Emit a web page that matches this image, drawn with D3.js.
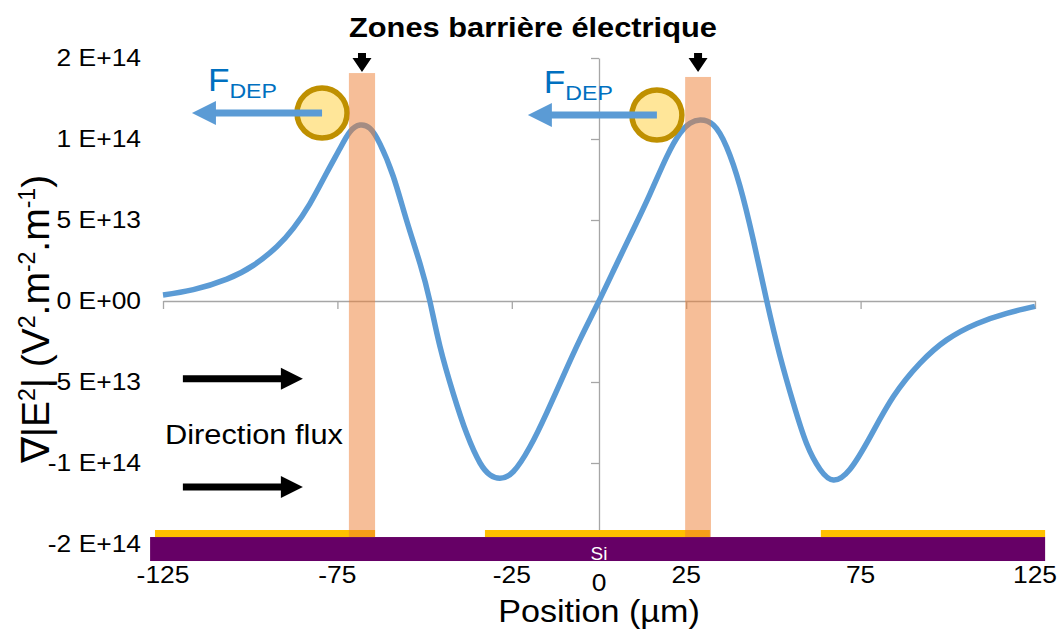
<!DOCTYPE html>
<html>
<head>
<meta charset="utf-8">
<script src="https://cdn.jsdelivr.net/npm/d3@7"></script>
<style>
  html, body { margin: 0; padding: 0; background: #fff; }
  text { font-family: "Liberation Sans", Arial, sans-serif; }
</style>
</head>
<body>
<div id="chart"></div>
<script>
// gradient of |E|^2 along the channel (µm, units of 1e13 V².m-².m-1)
const positions = [-125, -116.3, -106.7, -99.1, -92.4, -87.6, -82.9, -78.1, -74.3, -71.4, -68.5, -65.7, -62.8, -59, -55.2, -51.3, -48.5,
  -45.6, -41.8, -37.9, -34.1, -31.2, -28.4, -24.6, -19.8, -15, -10.2, -5.4, 0,
  5.1, 9.8, 14.6, 19.4, 23.2, 26.1, 29, 32.8, 36.6, 40.4, 44.2, 48.1,
  51.9, 55.7, 59.5, 63.4, 67.2, 71.9, 77.7, 84.4, 92, 99.7, 108.3, 116.9, 125];
const gradE2 = [0.37, 0.7, 1.35, 2.2, 3.35, 4.5, 6.0, 7.9, 9.4, 10.45, 10.86, 10.66, 9.7, 7.7, 5.0, 2.3, 0,
  -2.8, -5.7, -8.2, -10.0, -10.74, -10.94, -10.54, -9.0, -6.9, -4.6, -2.35, 0,
  2.3, 4.4, 6.6, 8.9, 10.35, 10.97, 11.17, 10.86, 9.5, 7.1, 3.8, 0,
  -3.4, -6.3, -8.8, -10.4, -11.05, -10.4, -8.4, -5.9, -3.85, -2.4, -1.4, -0.76, -0.33];

const yTickValues = [1.5e14, 1e14, 5e13, 0, -5e13, -1e14, -1.5e14];
const yTickLabels = ["2 E+14", "1 E+14", "5 E+13", "0 E+00", "-5 E+13", "-1 E+14", "-2 E+14"];
const xTickValues = [-125, -75, -25, 0, 25, 75, 125];
const xTickLabels = ["-125", "-75", "-25", "0", "25", "75", "125"];

// device drawing (µm)
const electrodes = [[-127.3, -64.2], [-32.7, 31.8], [63.6, 127.9]];
const substrate = [-128.7, 127.9];
const barriers = [[-71.7, -64.2], [24.7, 32.1]];
const barrierTops = [1.407e14, 1.383e14];
const particles = [[-79.4, 1.16e14], [16.6, 1.148e14]];
const forceTips = [-116.7, -20.4];
const flowArrows = [[-119.3, -84.9, -0.48e14], [-119.3, -84.9, -1.148e14]];

const W = 1058, H = 631;
const plot = { left: 163, right: 1035, top: 58, bottom: 544 };
const stretch = 1.1;

const x = d3.scaleLinear().domain([-125, 125]).range([plot.left, plot.right]);
const y = d3.scaleLinear().domain([-1.5e14, 1.5e14]).range([plot.bottom, plot.top]);

const svg = d3.select("#chart").append("svg")
  .attr("width", W).attr("height", H);

// text helper, wide glyphs like the original
function label(x0, y0, str, size, anchor, weight) {
  const g = svg.append("g").attr("transform", `translate(${x0},${y0}) scale(${stretch},1)`);
  return g.append("text")
    .attr("text-anchor", anchor || "start")
    .attr("font-size", size)
    .attr("font-weight", weight || "normal")
    .text(str);
}

// axes crossing at 0
svg.append("g")
  .attr("transform", `translate(${x(0)},0)`)
  .call(d3.axisLeft(y).tickValues(yTickValues).tickSize(8).tickSizeOuter(0).tickFormat(""));
svg.append("g")
  .attr("transform", `translate(0,${y(0)})`)
  .call(d3.axisBottom(x).tickValues(xTickValues).tickSize(8).tickSizeOuter(0).tickFormat(""));
svg.selectAll(".domain, .tick line").attr("stroke", "#a6a6a6").attr("stroke-width", 1.3);

// substrate + electrodes
svg.append("rect")
  .attr("x", x(substrate[0])).attr("width", x(substrate[1]) - x(substrate[0]))
  .attr("y", y(-1.457e14)).attr("height", y(-1.605e14) - y(-1.457e14))
  .attr("fill", "#660066");
svg.selectAll(".electrode").data(electrodes).join("rect")
  .attr("class", "electrode")
  .attr("x", d => x(d[0])).attr("width", d => x(d[1]) - x(d[0]))
  .attr("y", y(-1.4136e14)).attr("height", y(-1.457e14) - y(-1.4136e14))
  .attr("fill", "#ffc000");
svg.append("text")
  .attr("x", x(0)).attr("y", y(-1.605e14) - 1)
  .attr("text-anchor", "middle").attr("font-size", 19).attr("fill", "#fff")
  .text("Si");

// curve
const line = d3.line()
  .x((d, i) => x(positions[i]))
  .y(d => y(d * 1e13))
  .curve(d3.curveNatural);
svg.append("path")
  .attr("d", line(gradE2))
  .attr("fill", "none").attr("stroke", "#5b9bd5").attr("stroke-width", 5.5);

// particles
svg.selectAll(".particle").data(particles).join("circle")
  .attr("class", "particle")
  .attr("cx", d => x(d[0])).attr("cy", d => y(d[1])).attr("r", 25)
  .attr("fill", "#ffe699").attr("stroke", "#bf9000").attr("stroke-width", 5.5);

// F_DEP arrows
particles.forEach((p, i) => {
  const cy = y(p[1]), tip = x(forceTips[i]);
  svg.append("line")
    .attr("x1", x(p[0])).attr("x2", tip + 22).attr("y1", cy).attr("y2", cy)
    .attr("stroke", "#5b9bd5").attr("stroke-width", 7);
  svg.append("path")
    .attr("d", `M${tip},${cy}L${tip + 24},${cy - 12}L${tip + 24},${cy + 12}Z`)
    .attr("fill", "#5b9bd5");
  const t = label(tip + 16, cy - 22, "F", 32, "start");
  t.attr("fill", "#0070c0");
  t.append("tspan").attr("font-size", 21).attr("dy", 7).text("DEP");
});

// barrier zones
svg.selectAll(".barrier").data(barriers).join("rect")
  .attr("class", "barrier")
  .attr("x", d => x(d[0])).attr("width", d => x(d[1]) - x(d[0]))
  .attr("y", (d, i) => y(barrierTops[i]))
  .attr("height", (d, i) => y(-1.457e14) - y(barrierTops[i]))
  .attr("fill", "#ed7d31").attr("fill-opacity", 0.5);

// pointers to barriers
barriers.forEach(b => {
  const cx = x((b[0] + b[1]) / 2);
  svg.append("path")
    .attr("d", `M${cx - 4},53H${cx + 4}V58H${cx + 9.5}L${cx},72L${cx - 9.5},58H${cx - 4}Z`)
    .attr("fill", "#000");
});

// flow direction arrows
flowArrows.forEach(a => {
  const x1 = x(a[0]), x2 = x(a[1]), yy = y(a[2]);
  svg.append("line")
    .attr("x1", x1).attr("x2", x2 - 20).attr("y1", yy).attr("y2", yy)
    .attr("stroke", "#000").attr("stroke-width", 7);
  svg.append("path")
    .attr("d", `M${x2},${yy}L${x2 - 22},${yy - 11}L${x2 - 22},${yy + 11}Z`)
    .attr("fill", "#000");
});
label(165, 444, "Direction flux", 28, "start");

// title
label(349, 37, "Zones barrière électrique", 28, "start", "bold");

// tick labels
yTickValues.forEach((v, i) => label(141, y(v) + 8, yTickLabels[i], 24, "end"));
xTickValues.forEach((v, i) => label(x(v), v === 0 ? 591 : 583, xTickLabels[i], 24, "middle"));

// axis titles
label(x(0), 622, "Position (µm)", 31, "middle");
const yt = svg.append("g").attr("transform", "translate(49,319) rotate(-90)")
  .append("text").attr("text-anchor", "middle").attr("font-size", 39);
yt.append("tspan").text("∇|E");
yt.append("tspan").attr("font-size", 23).attr("dy", -14).text("2");
yt.append("tspan").attr("dy", 14).text("| (V");
yt.append("tspan").attr("font-size", 23).attr("dy", -14).text("2");
yt.append("tspan").attr("dy", 14).text(".m");
yt.append("tspan").attr("font-size", 23).attr("dy", -14).text("-2");
yt.append("tspan").attr("dy", 14).text(".m");
yt.append("tspan").attr("font-size", 23).attr("dy", -14).text("-1");
yt.append("tspan").attr("dy", 14).text(")");
</script>
</body>
</html>
